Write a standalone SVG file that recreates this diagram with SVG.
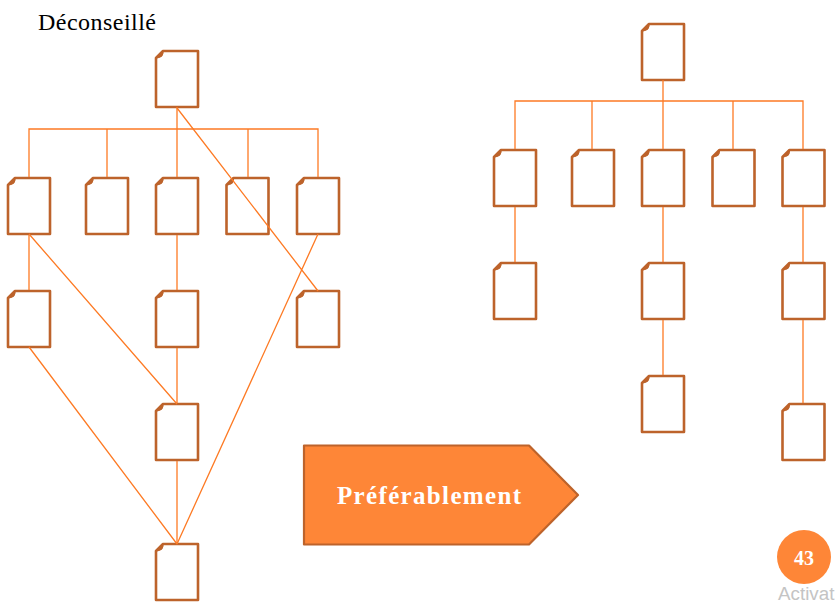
<svg xmlns="http://www.w3.org/2000/svg" xmlns:xlink="http://www.w3.org/1999/xlink" width="835" height="605" viewBox="0 0 835 605">
<style>
.c{fill:none;stroke:#fd7a24;stroke-width:1.3}
.d{fill:#fff;stroke:#bd632b;stroke-width:2.600;stroke-linejoin:round}
.f{fill:#bd632b;stroke:#bd632b;stroke-width:1;stroke-linejoin:round}
text{font-family:"Liberation Serif","Times New Roman",serif}
</style>
<defs>
<g id="doc"><path class="d" d="M7 0H42V56H0V7Z"/><path class="f" d="M7 0L0 7L3 6.500Q6.500 6 7 2.500Z"/></g>
</defs>
<rect width="835" height="605" fill="#fff"/>
<text x="38" y="30" font-size="24" fill="#000" textLength="118" lengthAdjust="spacing">Déconseillé</text>
<g id="l0"><use href="#doc" x="156" y="51"/></g>
<g id="l1"><use href="#doc" x="8" y="178"/></g>
<g id="l2"><use href="#doc" x="86" y="178"/></g>
<g id="l3"><use href="#doc" x="156" y="178"/></g>
<g id="l4"><use href="#doc" x="226.500" y="178"/></g>
<g id="l5"><use href="#doc" x="297" y="178"/></g>
<g id="l6"><use href="#doc" x="8" y="291"/></g>
<g id="l7"><use href="#doc" x="156" y="291"/></g>
<g id="l8"><use href="#doc" x="297" y="291"/></g>
<g id="l9"><use href="#doc" x="156" y="404"/></g>
<g id="l10"><use href="#doc" x="156" y="544"/></g>
<g id="r0"><use href="#doc" x="642" y="24"/></g>
<g id="r1"><use href="#doc" x="494" y="150"/></g>
<g id="r2"><use href="#doc" x="572" y="150"/></g>
<g id="r3"><use href="#doc" x="642" y="150"/></g>
<g id="r4"><use href="#doc" x="712.500" y="150"/></g>
<g id="r5"><use href="#doc" x="782.500" y="150"/></g>
<g id="r6"><use href="#doc" x="494" y="263"/></g>
<g id="r7"><use href="#doc" x="642" y="263"/></g>
<g id="r8"><use href="#doc" x="782.500" y="263"/></g>
<g id="r9"><use href="#doc" x="642" y="376"/></g>
<g id="r10"><use href="#doc" x="782.500" y="404"/></g>
<g id="connectors">
<path class="c" d="M177 107V177M29 177V129H318V177M107 129V177M248 129V177"/>
<path class="c" d="M29 235V290M177 235V290M177 348V403M177 461V543"/>
<path class="c" d="M177 108L318 291M29 234L177 404M29 347L177 544M318 234L177 544"/>
<path class="c" d="M663 80V149M515 149V101H803V149M592 101V149M733 101V149"/>
<path class="c" d="M515 207V262M663 207V262M663 320V375M803 207V262M803 320V403"/>
</g>
<g id="arrow">
<path d="M304 445.500H529L578 495L529 544.500H304Z" fill="#fe8637" stroke="#bd632b" stroke-width="2.200" stroke-linejoin="round"/>
<text x="337" y="504" font-size="25" font-weight="bold" fill="#fff" textLength="184" lengthAdjust="spacing">Préférablement</text>
</g>
<g id="page">
<circle cx="804" cy="557" r="27" fill="#fe8637"/>
<text x="804" y="565" font-size="20" font-weight="bold" fill="#fff" text-anchor="middle">43</text>
</g>
<text x="778" y="600" font-size="18.800" fill="#c4c4c4" style="font-family:'Liberation Sans',Arial,sans-serif">Activat</text>
</svg>
